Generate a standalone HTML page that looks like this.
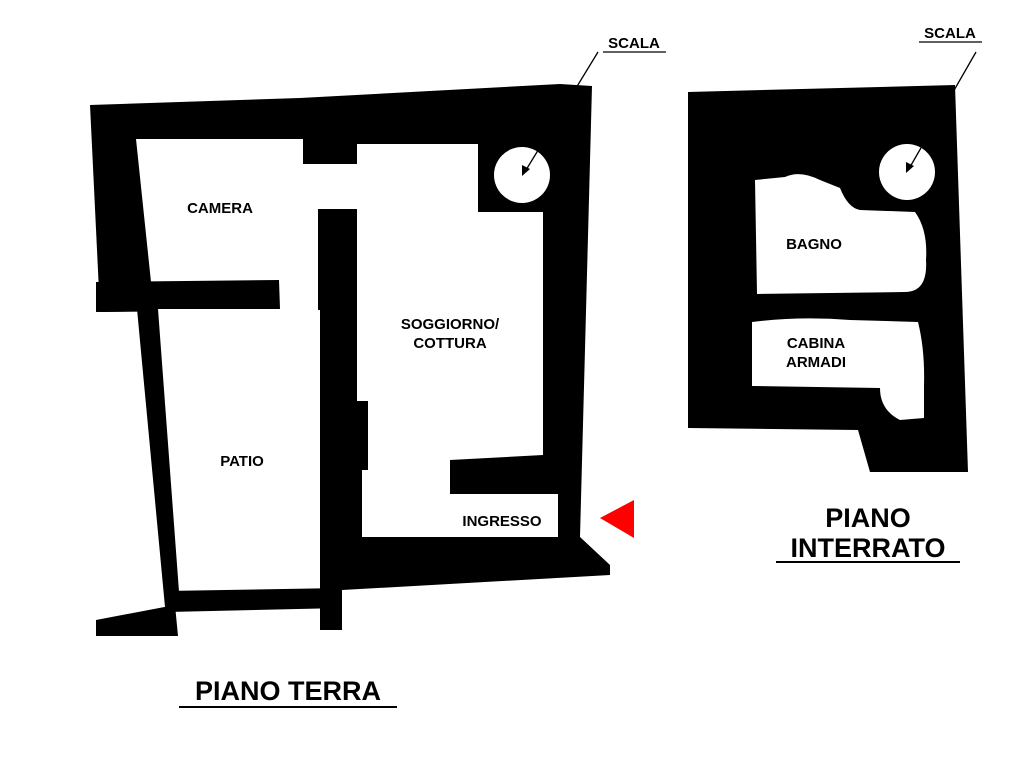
<!DOCTYPE html>
<html><head><meta charset="utf-8"><style>
html,body{margin:0;padding:0;background:#fff;}
svg{display:block;}
text{font-family:"Liberation Sans",sans-serif;font-weight:bold;fill:#000;}
</style></head><body>
<svg width="1024" height="768" viewBox="0 0 1024 768" xmlns="http://www.w3.org/2000/svg">
<rect width="1024" height="768" fill="#fff"/>
<!-- LEFT PLAN outer -->
<polygon points="90,105 300,98 560,84 592,86 580,537 610,565 610,575 342,590 342,630 320,630 320,310 100,312" fill="#000"/>
<!-- camera + link to patio -->
<polygon points="136,139 303,139 303,164 318,164 318,310 279,310 279,282 151,282" fill="#fff"/>
<rect x="303" y="164" width="56" height="45" fill="#fff"/>
<!-- camera bottom wall -->
<polygon points="96,282 279,280 280,309 96,312" fill="#000"/>
<!-- patio -->
<polygon points="158,309 318,309 318,591 168,591" fill="#fff"/>
<!-- patio left slanted wall -->
<polygon points="137,309 158,309 180,605 165,607" fill="#000"/>
<!-- patio bottom wall -->
<polygon points="165,591 342,588 342,608 168,612" fill="#000"/>
<polygon points="96,620 175,605 178,636 96,636" fill="#000"/>
<!-- soggiorno -->
<polygon points="357,144 478,144 478,212 543,212 543,455 450,460 450,494 558,494 558,537 362,537 362,470 368,470 368,401 357,401" fill="#fff"/>
<!-- stair -->
<circle cx="522" cy="175" r="28" fill="#fff"/>
<line x1="598" y1="52" x2="526" y2="170" stroke="#000" stroke-width="1.3"/>
<polygon points="522,176 522,165 530,169" fill="#000"/>
<text x="634" y="48" font-size="15" text-anchor="middle">SCALA</text>
<line x1="603" y1="52" x2="666" y2="52" stroke="#000" stroke-width="1.3"/>
<text x="220" y="213" font-size="15" text-anchor="middle">CAMERA</text>
<text x="450" y="329" font-size="15" text-anchor="middle">SOGGIORNO/</text>
<text x="450" y="348" font-size="15" text-anchor="middle">COTTURA</text>
<text x="242" y="466" font-size="15" text-anchor="middle">PATIO</text>
<text x="502" y="526" font-size="15" text-anchor="middle">INGRESSO</text>
<polygon points="600,518 634,500 634,538" fill="#f00"/>
<text x="288" y="700" font-size="27" text-anchor="middle">PIANO TERRA</text>
<line x1="179" y1="707" x2="397" y2="707" stroke="#000" stroke-width="2"/>
<!-- RIGHT PLAN -->
<polygon points="688,92 955,85 968,472 870,472 858,430 688,428" fill="#000"/>
<path d="M755,180 L785,177 Q800,170 820,180 L840,188 Q848,208 860,210 L915,212 Q928,230 926,260 Q928,292 905,292 L757,294 Z" fill="#fff"/>
<path d="M752,322 Q800,316 850,320 L918,322 Q925,350 924,385 L924,418 L900,420 Q880,410 880,388 L752,386 Z" fill="#fff"/>
<circle cx="907" cy="172" r="28" fill="#fff"/>
<line x1="976" y1="52" x2="910" y2="167" stroke="#000" stroke-width="1.3"/>
<polygon points="906,173 906,162 914,166" fill="#000"/>
<text x="950" y="38" font-size="15" text-anchor="middle">SCALA</text>
<line x1="919" y1="42" x2="982" y2="42" stroke="#000" stroke-width="1.3"/>
<text x="814" y="249" font-size="15" text-anchor="middle">BAGNO</text>
<text x="816" y="348" font-size="15" text-anchor="middle">CABINA</text>
<text x="816" y="367" font-size="15" text-anchor="middle">ARMADI</text>
<text x="868" y="527" font-size="27" text-anchor="middle">PIANO</text>
<text x="868" y="557" font-size="27" text-anchor="middle">INTERRATO</text>
<line x1="776" y1="562" x2="960" y2="562" stroke="#000" stroke-width="2"/>
</svg>
</body></html>
